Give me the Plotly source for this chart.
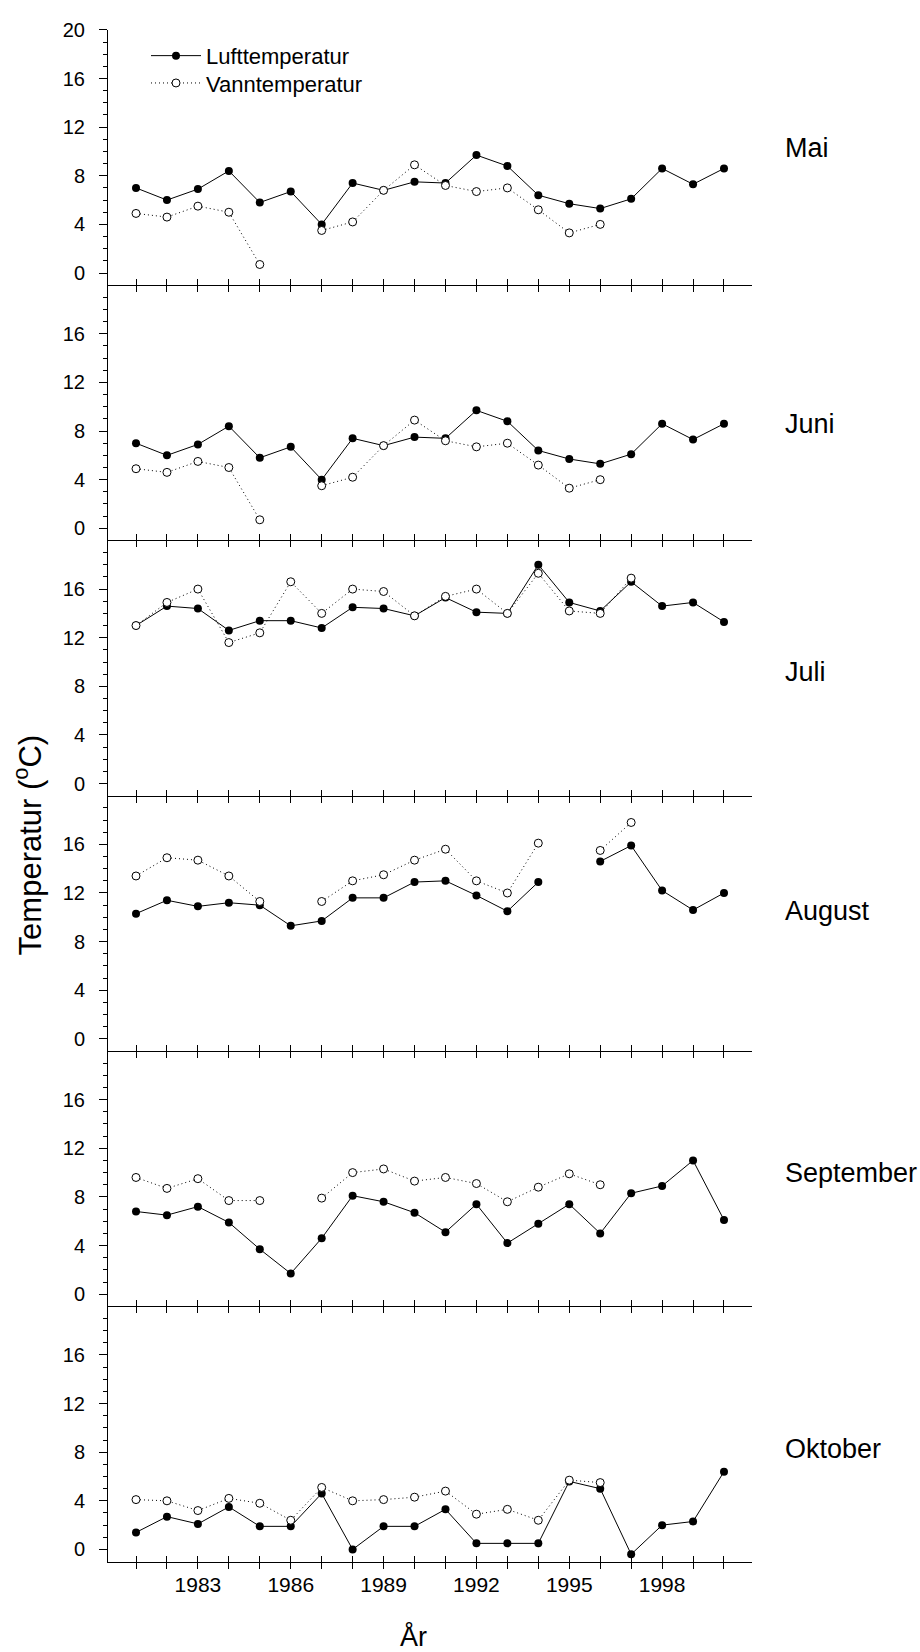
import plotly.graph_objects as go

# ---------------- data ----------------
years = list(range(1981, 2001))
year_labels = ["", "", "1983", "", "", "1986", "", "", "1989", "", "", "1992",
               "", "", "1995", "", "", "1998", "", ""]
months = ["Mai", "Juni", "Juli", "August", "September", "Oktober"]

mai_luft = [7.0, 6.0, 6.9, 8.4, 5.8, 6.7, 4.0, 7.4, 6.8, 7.5, 7.4, 9.7, 8.8, 6.4, 5.7, 5.3, 6.1, 8.6, 7.3, 8.6]
mai_vann = [4.9, 4.6, 5.5, 5.0, 0.7, None, 3.5, 4.2, 6.8, 8.9, 7.2, 6.7, 7.0, 5.2, 3.3, 4.0, None, None, None, None]

juni_luft = [7.0, 6.0, 6.9, 8.4, 5.8, 6.7, 4.0, 7.4, 6.8, 7.5, 7.4, 9.7, 8.8, 6.4, 5.7, 5.3, 6.1, 8.6, 7.3, 8.6]
juni_vann = [4.9, 4.6, 5.5, 5.0, 0.7, None, 3.5, 4.2, 6.8, 8.9, 7.2, 6.7, 7.0, 5.2, 3.3, 4.0, None, None, None, None]

juli_luft = [13.0, 14.6, 14.4, 12.6, 13.4, 13.4, 12.8, 14.5, 14.4, 13.8, 15.3, 14.1, 14.0, 18.0, 14.9, 14.2, 16.6, 14.6, 14.9, 13.3]
juli_vann = [13.0, 14.9, 16.0, 11.6, 12.4, 16.6, 14.0, 16.0, 15.8, 13.8, 15.4, 16.0, 14.0, 17.3, 14.2, 14.0, 16.9, None, None, None]

aug_luft = [10.3, 11.4, 10.9, 11.2, 11.0, 9.3, 9.7, 11.6, 11.6, 12.9, 13.0, 11.8, 10.5, 12.9, None, 14.6, 15.9, 12.2, 10.6, 12.0]
aug_vann = [13.4, 14.9, 14.7, 13.4, 11.3, None, 11.3, 13.0, 13.5, 14.7, 15.6, 13.0, 12.0, 16.1, None, 15.5, 17.8, None, None, None]

sep_luft = [6.8, 6.5, 7.2, 5.9, 3.7, 1.7, 4.6, 8.1, 7.6, 6.7, 5.1, 7.4, 4.2, 5.8, 7.4, 5.0, 8.3, 8.9, 11.0, 6.1]
sep_vann = [9.6, 8.7, 9.5, 7.7, 7.7, None, 7.9, 10.0, 10.3, 9.3, 9.6, 9.1, 7.6, 8.8, 9.9, 9.0, None, None, None, None]

okt_luft = [1.4, 2.7, 2.1, 3.5, 1.9, 1.9, 4.6, 0.0, 1.9, 1.9, 3.3, 0.5, 0.5, 0.5, 5.6, 5.0, -0.4, 2.0, 2.3, 6.4]
okt_vann = [4.1, 4.0, 3.2, 4.2, 3.8, 2.4, 5.1, 4.0, 4.1, 4.3, 4.8, 2.9, 3.3, 2.4, 5.7, 5.5, None, None, None, None]

luft_series = [mai_luft, juni_luft, juli_luft, aug_luft, sep_luft, okt_luft]
vann_series = [mai_vann, juni_vann, juli_vann, aug_vann, sep_vann, okt_vann]

y_major = [0, 4, 8, 12, 16]
y_major_top = [0, 4, 8, 12, 16, 20]
y_minor = [1, 2, 3, 5, 6, 7, 9, 10, 11, 13, 14, 15, 17, 18, 19]

# ---------------- layout geometry (pixels) ----------------
W, H = 920, 1652
X_LEFT, X_RIGHT = 108, 752
PANEL_TOP0, PANEL_H = 19, 257
label_y_px = [138, 416, 665, 906, 1170, 1448]
FONT = "Arial, Liberation Sans, sans-serif"

legend_common = dict(xanchor="left", yanchor="top", bgcolor="rgba(0,0,0,0)",
                     font=dict(size=22, family=FONT), tracegroupgap=0, itemwidth=50)

fig = go.Figure()
layout = dict(
    width=W, height=H,
    margin=dict(l=0, r=0, t=0, b=0),
    paper_bgcolor="white", plot_bgcolor="white",
    font=dict(family=FONT, color="black", size=20),
    showlegend=True,
    legend=dict(x=146 / W, y=1 - 24 / H, **legend_common),
    legend2=dict(x=146 / W, y=1 - 51.5 / H, **legend_common),
)

annotations = []
n = len(months)
for i in range(n):
    k = "" if i == 0 else str(i + 1)
    xa, ya = "x" + k, "y" + k
    top = PANEL_TOP0 + PANEL_H * i
    bot = top + PANEL_H
    dom_y = [(H - bot) / H, (H - top) / H]
    dom_x = [X_LEFT / W, X_RIGHT / W]
    last = i == n - 1

    fig.add_trace(go.Scatter(
        x=years, y=luft_series[i], mode="lines+markers", name="Lufttemperatur",
        line=dict(color="black", width=1),
        marker=dict(size=8, color="black", line=dict(color="black", width=0)),
        showlegend=(i == 0), legend="legend", xaxis=xa, yaxis=ya))
    fig.add_trace(go.Scatter(
        x=years, y=vann_series[i], mode="lines+markers", name="Vanntemperatur",
        line=dict(color="black", width=1, dash="1px,3px"),
        marker=dict(size=8, color="white", line=dict(color="black", width=1)),
        showlegend=(i == 0), legend="legend2", xaxis=xa, yaxis=ya))

    layout["xaxis" + k] = dict(
        domain=dom_x, anchor=ya, range=[1980.095, 2000.905],
        tickmode="array", tickvals=years, ticktext=year_labels,
        showticklabels=last, ticks="outside", ticklen=6, tickwidth=1, tickcolor="black",
        showline=True, linecolor="black", linewidth=1,
        showgrid=False, zeroline=False,
        tickfont=dict(size=21, family=FONT), ticklabelstandoff=-2)
    # overlay axis to give the crossing (inside) half of the x ticks
    ok = str(n + i + 1)
    fig.add_trace(go.Scatter(x=[], y=[], xaxis="x" + ok, yaxis=ya,
                             showlegend=False, hoverinfo="skip"))
    layout["xaxis" + ok] = dict(
        overlaying=xa, anchor=ya, range=[1980.095, 2000.905],
        tickmode="array", tickvals=years, showticklabels=False,
        ticks="inside", ticklen=6, tickwidth=1, tickcolor="black",
        showline=False, showgrid=False, zeroline=False)

    layout["yaxis" + k] = dict(
        domain=dom_y, anchor=xa, range=[-1, 20],
        tickmode="array", tickvals=(y_major_top if i == 0 else y_major),
        ticks="outside", ticklen=8, tickwidth=1, tickcolor="black",
        minor=dict(tickmode="array", tickvals=y_minor, ticks="outside",
                   ticklen=4, tickwidth=1, tickcolor="black", showgrid=False),
        showline=True, linecolor="black", linewidth=1,
        showgrid=False, zeroline=False,
        tickfont=dict(size=20, family=FONT), ticklabelstandoff=10)

    annotations.append(dict(
        text=months[i], x=783 / W, y=1 - label_y_px[i] / H, xref="paper", yref="paper",
        xanchor="left", yanchor="middle", showarrow=False,
        font=dict(size=27, family=FONT)))

annotations.append(dict(
    text="Temperatur (<sup>o</sup>C)", x=28 / W, y=1 - 840 / H, xref="paper", yref="paper",
    xanchor="center", yanchor="middle", textangle=-90, showarrow=False,
    font=dict(size=31, family=FONT)))
annotations.append(dict(
    text="År", x=413 / W, y=1 - 1636 / H, xref="paper", yref="paper",
    xanchor="center", yanchor="middle", showarrow=False,
    font=dict(size=27, family=FONT)))

layout["annotations"] = annotations
fig.update_layout(**layout)
fig.write_html("out.html")
